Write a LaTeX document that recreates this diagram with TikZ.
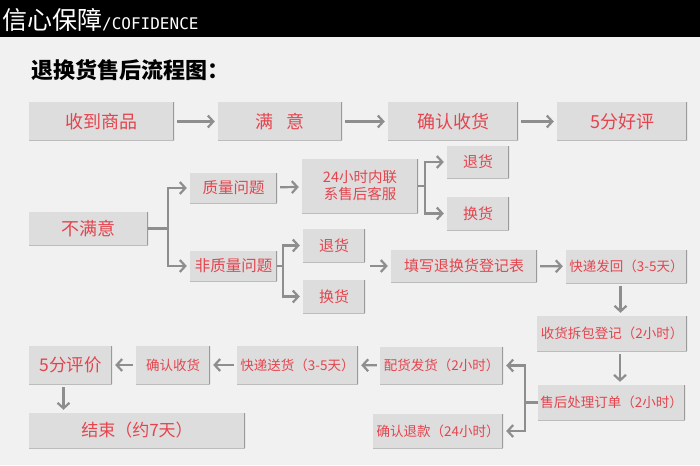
\documentclass[tikz,border=0pt]{standalone}
\usepackage{fontspec}
\usetikzlibrary{arrows.meta}
\newfontfamily\cjk{Noto Sans CJK SC}
\newfontfamily\monofont{DejaVu Sans Mono}
\definecolor{bggray}{HTML}{F1F1F1}
\definecolor{boxgray}{HTML}{DDDDDD}
\definecolor{edgegray}{HTML}{9A9A9A}
\definecolor{arrowgray}{HTML}{8E8E8E}
\definecolor{txtred}{HTML}{E5444E}

\begin{document}
\begin{tikzpicture}[x=1pt,y=-1pt,
	box/.style={fill=boxgray,text=txtred,inner sep=0pt,align=center,font=\cjk,
		path picture={\draw[edgegray,line width=2.2pt] (path picture bounding box.north east) -- (path picture bounding box.south east);
		\draw[boxgray!85!black,line width=1pt] (path picture bounding box.south west) -- (path picture bounding box.south east);}},
	flow/.style={draw=arrowgray,line width=2.2pt},
	arr/.style={flow,-{Straight Barb[length=5.5pt,width=12pt]},shorten >=3pt}]
\useasboundingbox (0,0) rectangle (700,465);
\fill[bggray] (0,0) rectangle (700,465);
\fill[black] (0,0) rectangle (700,37);
\node[anchor=west,text=white,inner sep=0pt] (head) at (2,20) {{\cjk\fontsize{25}{25}\selectfont 信心保障}{\monofont\fontsize{16}{16}\selectfont /COFIDENCE}};
\node[anchor=west,inner sep=0pt] (title) at (31,70) {\cjk\bfseries\fontsize{22}{22}\selectfont 退换货售后流程图：};

\node[box,minimum width=145pt,minimum height=39pt,font=\cjk\fontsize{18}{18}\selectfont] (recv) at (101.5,121.5) {收到商品};
\node[box,minimum width=124pt,minimum height=39pt,font=\cjk\fontsize{18}{18}\selectfont] (ok) at (280,121.5) {满\hspace{0.7em}意};
\node[box,minimum width=130pt,minimum height=39pt,font=\cjk\fontsize{18}{18}\selectfont] (conf1) at (453,121.5) {确认收货};
\node[box,minimum width=130pt,minimum height=39pt,font=\cjk\fontsize{18}{18}\selectfont] (good) at (622,121.5) {5分好评};

\node[box,minimum width=119pt,minimum height=33pt,font=\cjk\fontsize{18}{18}\selectfont] (bad) at (88.5,228.5) {不满意};
\node[box,minimum width=87pt,minimum height=30pt,font=\cjk\fontsize{15.5}{15.5}\selectfont] (qual) at (233.5,188) {质量问题};
\node[box,minimum width=116pt,minimum height=54pt,font=\cjk\fontsize{14.5}{17}\selectfont] (svc) at (360,186) {24小时内联\\系售后客服};
\node[box,minimum width=62pt,minimum height=32pt,font=\cjk\fontsize{15}{15}\selectfont] (ret1) at (478,162) {退货};
\node[box,minimum width=62pt,minimum height=33pt,font=\cjk\fontsize{15}{15}\selectfont] (exc1) at (478,213.5) {换货};
\node[box,minimum width=87pt,minimum height=30pt,font=\cjk\fontsize{15.5}{15.5}\selectfont] (nq) at (233.5,266) {非质量问题};
\node[box,minimum width=62pt,minimum height=33pt,font=\cjk\fontsize{15}{15}\selectfont] (ret2) at (334,245.5) {退货};
\node[box,minimum width=62pt,minimum height=33pt,font=\cjk\fontsize{15}{15}\selectfont] (exc2) at (334,296.5) {换货};
\node[box,minimum width=146pt,minimum height=32pt,font=\cjk\fontsize{15}{15}\selectfont] (form) at (464,266) {填写退换货登记表};
\node[box,minimum width=121pt,minimum height=33pt,font=\cjk\fontsize{13.5}{13.5}\selectfont] (back) at (626.5,266.5) {快递发回（3-5天）};
\node[box,minimum width=150pt,minimum height=35pt,font=\cjk\fontsize{13.5}{13.5}\selectfont] (unpack) at (612,333.5) {收货拆包登记（2小时）};
\node[box,minimum width=147pt,minimum height=35pt,font=\cjk\fontsize{13.5}{13.5}\selectfont] (proc) at (611.5,402.5) {售后处理订单（2小时）};
\node[box,minimum width=123pt,minimum height=37pt,font=\cjk\fontsize{13.5}{13.5}\selectfont] (ship) at (441.5,365.5) {配货发货（2小时）};
\node[box,minimum width=130pt,minimum height=34pt,font=\cjk\fontsize{13.5}{13.5}\selectfont] (refund) at (438,431) {确认退款（24小时）};
\node[box,minimum width=121pt,minimum height=38pt,font=\cjk\fontsize{13.5}{13.5}\selectfont] (deliv) at (297.5,365) {快递送货（3-5天）};
\node[box,minimum width=74pt,minimum height=38pt,font=\cjk\fontsize{13.5}{13.5}\selectfont] (conf2) at (173,365) {确认收货};
\node[box,minimum width=83pt,minimum height=38pt,font=\cjk\fontsize{17.5}{17.5}\selectfont] (rate) at (70.5,365) {5分评价};
\node[box,minimum width=216pt,minimum height=35pt,font=\cjk\fontsize{17}{17}\selectfont] (done) at (137,430.5) {结束（约7天）};

\coordinate (f1) at (168,228.5);
\coordinate (f2) at (425,186);
\coordinate (f3) at (283,266);
\coordinate (f4) at (525,402.5);
\coordinate (in) at (370,266);

\draw[arr,shorten <=3pt] (recv) -- (ok);
\draw[arr,shorten <=3pt] (ok) -- (conf1);
\draw[arr,shorten <=3pt] (conf1) -- (good);
\draw[flow] (bad) -- (f1);
\draw[arr] (f1) |- (qual);
\draw[arr] (f1) |- (nq);
\draw[arr,shorten <=3pt] (qual) -- (svc);
\draw[flow] (svc) -- (f2);
\draw[arr] (f2) |- (ret1);
\draw[arr] (f2) |- (exc1);
\draw[flow] (nq) -- (f3);
\draw[arr] (f3) |- (ret2);
\draw[arr] (f3) |- (exc2);
\draw[arr] (in) -- (form);
\draw[arr,shorten <=3pt] (form) -- (back);
\draw[arr,shorten <=3pt] ([xshift=-6pt]back.south) -- ([xshift=-6pt]back.south |- unpack.north);
\draw[arr,shorten <=3pt] ([xshift=8pt]unpack.south) -- ([xshift=8pt]unpack.south |- proc.north);
\draw[flow] (proc) -- (f4);
\draw[arr] (f4) |- (ship);
\draw[arr] (f4) |- (refund);
\draw[arr,shorten <=3pt] (ship) -- (deliv);
\draw[arr,shorten <=3pt] (deliv) -- (conf2);
\draw[arr,shorten <=3pt] (conf2) -- (rate);
\draw[arr,shorten <=3pt] ([xshift=-7pt]rate.south) -- ([xshift=-7pt]rate.south |- done.north);
\end{tikzpicture}
\end{document}
